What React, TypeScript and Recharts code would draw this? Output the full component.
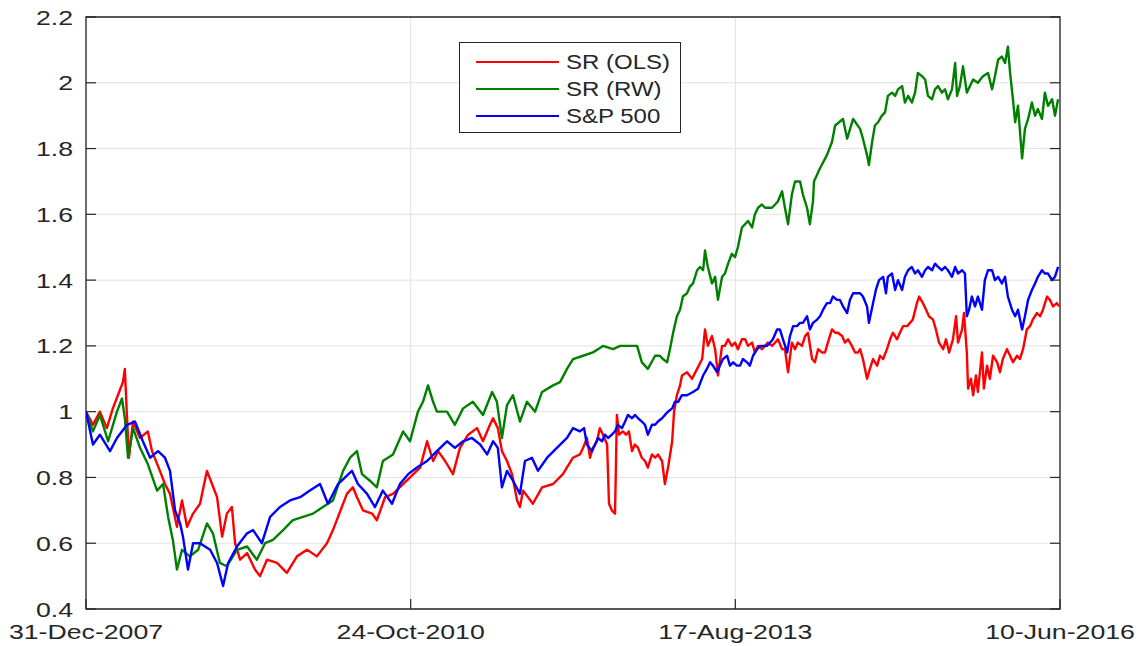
import {
  LineChart,
  Line,
  XAxis,
  YAxis,
  CartesianGrid,
  ReferenceArea,
  Legend,
} from "recharts";

// x values are days since 31-Dec-2007
const xTicks = [0, 1028, 2056, 3084];
const xTickLabels = ["31-Dec-2007", "24-Oct-2010", "17-Aug-2013", "10-Jun-2016"];
const yTicks = [0.4, 0.6, 0.8, 1, 1.2, 1.4, 1.6, 1.8, 2, 2.2];

const srOls: [number, number][] = [
  [0, 1.0], [22, 0.96], [44, 1.0], [66, 0.95], [85, 1.01], [101, 1.05], [117, 1.09], [123, 1.13],
  [130, 0.98], [136, 0.86], [149, 0.97], [171, 0.92], [196, 0.94], [209, 0.88], [234, 0.82], [250, 0.78],
  [266, 0.75], [288, 0.65], [304, 0.73], [320, 0.65], [339, 0.69], [361, 0.72], [383, 0.82], [399, 0.78],
  [415, 0.74], [431, 0.62], [446, 0.69], [462, 0.71], [472, 0.6], [488, 0.55], [510, 0.57], [535, 0.52],
  [551, 0.5], [573, 0.55], [605, 0.54], [636, 0.51], [668, 0.56], [700, 0.58], [731, 0.56], [763, 0.6],
  [782, 0.64], [798, 0.68], [826, 0.75], [845, 0.77], [858, 0.74], [877, 0.7], [906, 0.69], [921, 0.67],
  [947, 0.74], [972, 0.75], [1004, 0.78], [1026, 0.8], [1058, 0.83], [1080, 0.91], [1099, 0.85], [1115, 0.88],
  [1137, 0.85], [1162, 0.81], [1184, 0.89], [1210, 0.93], [1238, 0.95], [1257, 0.91], [1279, 0.96], [1289, 0.98],
  [1304, 0.95], [1317, 0.88], [1333, 0.85], [1349, 0.81], [1365, 0.73], [1374, 0.71], [1384, 0.76], [1415, 0.72],
  [1444, 0.77], [1479, 0.78], [1510, 0.81], [1542, 0.86],
  [1564, 0.87], [1574, 0.89], [1586, 0.92], [1596, 0.86], [1605, 0.89], [1618, 0.91], [1627, 0.95], [1637, 0.93],
  [1650, 0.9], [1656, 0.72], [1665, 0.7], [1675, 0.69], [1681, 0.99], [1688, 0.93], [1700, 0.94], [1710, 0.93],
  [1719, 0.94], [1729, 0.88], [1738, 0.9], [1748, 0.89], [1760, 0.86], [1770, 0.85], [1779, 0.83], [1792, 0.87],
  [1802, 0.86], [1811, 0.87], [1824, 0.85], [1833, 0.78], [1843, 0.83], [1856, 0.91], [1862, 1.0], [1871, 1.05],
  [1881, 1.08], [1887, 1.11], [1903, 1.12], [1919, 1.1], [1935, 1.13], [1951, 1.16], [1960, 1.25], [1969, 1.2],
  [1982, 1.23], [1992, 1.19], [2001, 1.11], [2014, 1.2], [2023, 1.2], [2033, 1.22], [2045, 1.2], [2055, 1.21],
  [2064, 1.19], [2077, 1.22], [2087, 1.22], [2096, 1.2], [2109, 1.21], [2118, 1.18], [2128, 1.2], [2140, 1.19],
  [2150, 1.2], [2159, 1.21], [2172, 1.2], [2182, 1.21], [2191, 1.22], [2204, 1.19], [2213, 1.19], [2223, 1.12],
  [2235, 1.21], [2245, 1.19], [2254, 1.21], [2267, 1.2], [2277, 1.23], [2286, 1.24], [2299, 1.16], [2308, 1.15],
  [2318, 1.19], [2330, 1.18], [2340, 1.18], [2349, 1.21], [2362, 1.25], [2372, 1.24], [2381, 1.24], [2394, 1.23],
  [2403, 1.21], [2413, 1.22], [2425, 1.2], [2435, 1.18], [2444, 1.18],
  [2451, 1.19], [2460, 1.16], [2473, 1.1], [2482, 1.13], [2492, 1.16], [2505, 1.14], [2514, 1.17], [2524, 1.16],
  [2536, 1.19], [2546, 1.22], [2555, 1.24], [2568, 1.22], [2577, 1.24], [2587, 1.26], [2600, 1.26], [2609, 1.27],
  [2618, 1.28], [2631, 1.33], [2638, 1.35], [2650, 1.33], [2660, 1.31], [2669, 1.29], [2682, 1.28], [2691, 1.25],
  [2701, 1.21], [2714, 1.19], [2723, 1.22], [2733, 1.18], [2745, 1.22], [2755, 1.29], [2761, 1.21], [2774, 1.25],
  [2780, 1.3], [2789, 1.18], [2793, 1.07], [2802, 1.1], [2809, 1.05], [2818, 1.11], [2824, 1.06], [2837, 1.18],
  [2843, 1.07], [2853, 1.14], [2862, 1.1], [2872, 1.17], [2885, 1.15], [2894, 1.12], [2903, 1.16], [2916, 1.19],
  [2926, 1.17], [2935, 1.15], [2948, 1.17], [2957, 1.16], [2967, 1.19], [2979, 1.25], [2989, 1.26], [2998, 1.28],
  [3011, 1.3], [3021, 1.29], [3030, 1.31], [3043, 1.35], [3052, 1.34], [3062, 1.32], [3074, 1.33], [3081, 1.32],
];

const srRw: [number, number][] = [
  [0, 1.0], [22, 0.94], [44, 0.99], [70, 0.91], [98, 1.0], [114, 1.04], [123, 0.98], [133, 0.86],
  [149, 0.95], [171, 0.89], [196, 0.84], [225, 0.76], [244, 0.78], [260, 0.68], [275, 0.61], [288, 0.52],
  [304, 0.58], [329, 0.56], [355, 0.58], [383, 0.66], [402, 0.63], [424, 0.54], [446, 0.53], [478, 0.58],
  [510, 0.59], [541, 0.55], [567, 0.6], [592, 0.61], [624, 0.64], [655, 0.67], [687, 0.68], [719, 0.69],
  [750, 0.71], [782, 0.73], [814, 0.82], [836, 0.86], [858, 0.88], [874, 0.81], [899, 0.79], [921, 0.77],
  [940, 0.85], [972, 0.87], [1004, 0.94], [1026, 0.91], [1051, 1.0], [1067, 1.03], [1083, 1.08], [1099, 1.03],
  [1111, 1.0], [1143, 1.0], [1168, 0.96], [1194, 1.01], [1225, 1.03], [1257, 0.99], [1286, 1.06], [1301, 1.03],
  [1317, 0.92], [1333, 1.02], [1352, 1.05], [1374, 0.97], [1396, 1.03], [1422, 1.0], [1444, 1.06], [1479, 1.08],
  [1501, 1.09], [1523, 1.13], [1542, 1.16], [1574, 1.17], [1605, 1.18], [1637, 1.2], [1669, 1.19], [1691, 1.2],
  [1722, 1.2], [1745, 1.2], [1760, 1.15], [1779, 1.13], [1802, 1.17],
  [1817, 1.17], [1827, 1.16], [1840, 1.15], [1849, 1.19], [1859, 1.24], [1871, 1.29], [1881, 1.31], [1890, 1.35],
  [1903, 1.36], [1912, 1.38], [1922, 1.39], [1935, 1.43], [1944, 1.44], [1954, 1.43], [1960, 1.49], [1969, 1.44],
  [1982, 1.39], [1992, 1.41], [2001, 1.34], [2014, 1.41], [2023, 1.42], [2033, 1.45], [2045, 1.48], [2055, 1.47],
  [2064, 1.5], [2077, 1.56], [2087, 1.57], [2096, 1.58], [2109, 1.56], [2118, 1.6], [2128, 1.62], [2140, 1.63],
  [2150, 1.62], [2159, 1.62], [2172, 1.62], [2182, 1.63], [2191, 1.64], [2204, 1.67], [2213, 1.62], [2223, 1.57],
  [2235, 1.66], [2245, 1.7], [2261, 1.7], [2270, 1.66], [2283, 1.62], [2292, 1.57], [2302, 1.64], [2305, 1.7],
  [2324, 1.74], [2346, 1.78], [2362, 1.82], [2372, 1.87], [2397, 1.89], [2410, 1.83], [2429, 1.89],
  [2451, 1.86], [2460, 1.83], [2473, 1.78], [2479, 1.75], [2489, 1.82], [2498, 1.87], [2508, 1.88], [2520, 1.9],
  [2530, 1.91], [2539, 1.96], [2552, 1.97], [2562, 1.96], [2571, 1.98], [2584, 1.99], [2593, 1.94], [2603, 1.96],
  [2615, 1.94], [2625, 1.97], [2634, 2.03], [2647, 2.02], [2657, 2.01], [2666, 1.96], [2679, 1.95], [2688, 1.98],
  [2698, 1.99], [2710, 1.97], [2720, 1.98], [2729, 1.95], [2742, 1.98], [2752, 2.06], [2758, 1.96], [2767, 1.99],
  [2777, 2.05], [2789, 1.97], [2799, 1.99], [2809, 2.01], [2824, 2.0], [2840, 2.02], [2856, 2.03], [2869, 1.98],
  [2878, 2.02], [2888, 2.07], [2900, 2.08], [2910, 2.06], [2919, 2.11], [2926, 2.03], [2935, 1.95], [2942, 1.88],
  [2951, 1.93], [2964, 1.77], [2973, 1.86], [2983, 1.89], [2995, 1.94], [3005, 1.9], [3014, 1.92], [3027, 1.89],
  [3036, 1.97], [3046, 1.93], [3059, 1.95], [3068, 1.9], [3078, 1.95],
];

const sp500: [number, number][] = [
  [0, 1.0], [22, 0.9], [44, 0.93], [76, 0.88], [98, 0.92], [130, 0.96], [155, 0.97], [180, 0.91],
  [203, 0.86], [228, 0.88], [250, 0.86], [266, 0.82], [282, 0.7], [298, 0.66], [307, 0.62], [323, 0.52],
  [339, 0.6], [361, 0.6], [393, 0.58], [415, 0.54], [434, 0.47], [450, 0.54], [478, 0.59], [510, 0.63],
  [529, 0.64], [557, 0.6], [583, 0.68], [614, 0.71], [646, 0.73], [678, 0.74], [709, 0.76], [741, 0.78],
  [766, 0.72], [798, 0.78], [842, 0.82], [861, 0.78], [890, 0.75], [915, 0.71], [940, 0.76], [969, 0.72],
  [994, 0.78], [1020, 0.81], [1048, 0.83], [1080, 0.85], [1111, 0.88], [1143, 0.91], [1168, 0.89], [1194, 0.91],
  [1222, 0.92], [1248, 0.9], [1270, 0.87], [1289, 0.91], [1304, 0.89], [1317, 0.77], [1333, 0.82], [1352, 0.79],
  [1374, 0.75], [1390, 0.85], [1412, 0.86], [1431, 0.82], [1460, 0.86], [1491, 0.89], [1523, 0.92], [1542, 0.95],
  [1564, 0.94], [1577, 0.95], [1586, 0.9], [1602, 0.88], [1612, 0.9], [1621, 0.92], [1634, 0.91], [1643, 0.93],
  [1653, 0.92], [1665, 0.93], [1675, 0.94], [1684, 0.96], [1697, 0.95], [1707, 0.97], [1716, 0.99], [1729, 0.98],
  [1738, 0.99], [1748, 0.98], [1760, 0.97], [1770, 0.96], [1779, 0.93], [1792, 0.96], [1802, 0.96], [1811, 0.97],
  [1824, 0.98], [1833, 0.99], [1843, 1.0], [1856, 1.01], [1865, 1.03], [1875, 1.03], [1887, 1.05], [1903, 1.05],
  [1922, 1.06], [1938, 1.07], [1954, 1.11], [1966, 1.13], [1976, 1.15], [1985, 1.14], [1998, 1.12], [2007, 1.14],
  [2017, 1.16], [2030, 1.17], [2039, 1.14], [2049, 1.15], [2061, 1.14], [2071, 1.14], [2080, 1.16], [2093, 1.15],
  [2102, 1.14], [2112, 1.17], [2125, 1.19], [2134, 1.2], [2144, 1.2], [2156, 1.2], [2166, 1.21], [2175, 1.22],
  [2188, 1.25], [2197, 1.25], [2207, 1.22], [2220, 1.18], [2229, 1.23], [2239, 1.26], [2251, 1.26], [2261, 1.27],
  [2270, 1.27], [2283, 1.29], [2292, 1.25], [2302, 1.27], [2315, 1.28], [2324, 1.29], [2334, 1.31], [2346, 1.33],
  [2356, 1.33], [2365, 1.35], [2378, 1.34], [2387, 1.34], [2397, 1.32], [2410, 1.3], [2419, 1.34], [2429, 1.36],
  [2441, 1.36], [2451, 1.36], [2460, 1.35], [2473, 1.32], [2479, 1.27], [2492, 1.33], [2501, 1.37], [2511, 1.4],
  [2524, 1.41], [2533, 1.36], [2539, 1.41], [2552, 1.42], [2562, 1.37], [2571, 1.4], [2584, 1.37], [2593, 1.41],
  [2603, 1.43], [2615, 1.44], [2625, 1.42], [2634, 1.43], [2647, 1.41], [2657, 1.43], [2666, 1.44], [2679, 1.43],
  [2688, 1.45], [2698, 1.44], [2710, 1.43], [2720, 1.44], [2729, 1.43], [2742, 1.41], [2752, 1.44], [2761, 1.42],
  [2774, 1.43], [2783, 1.42], [2789, 1.29], [2796, 1.31], [2805, 1.35], [2815, 1.32], [2824, 1.35], [2837, 1.31],
  [2846, 1.4], [2856, 1.43], [2869, 1.43], [2878, 1.4], [2888, 1.41], [2900, 1.39], [2910, 1.41], [2919, 1.35],
  [2932, 1.31], [2942, 1.29], [2951, 1.31], [2964, 1.25], [2973, 1.29], [2983, 1.34], [2995, 1.37], [3005, 1.39],
  [3014, 1.41], [3027, 1.43], [3036, 1.42], [3046, 1.42], [3059, 1.4], [3068, 1.41], [3078, 1.44],
];

const series = [
  { name: "SR (OLS)", color: "#ff0000", points: srOls },
  { name: "SR (RW)", color: "#008000", points: srRw },
  { name: "S&P 500", color: "#0000ff", points: sp500 },
];

const toRows = (pts: [number, number][]) => pts.map(([day, v]) => ({ day, v }));

const AXIS = "#262626";
const FONT = "'Liberation Sans', Arial, sans-serif";
const TICK_LEN = 10;

const LeftTick = ({ x, y, payload }: any) => (
  <g>
    <line x1={x} x2={x + TICK_LEN} y1={y} y2={y} stroke={AXIS} strokeWidth={1.2} />
    <text
      transform={`translate(${x - 13},${y + 7.5}) scale(1.27,1)`}
      textAnchor="end"
      fontSize={21}
      fontFamily={FONT}
      fill={AXIS}
    >
      {String(payload.value)}
    </text>
  </g>
);

const RightTick = ({ x, y }: any) => (
  <line x1={x} x2={x - TICK_LEN} y1={y} y2={y} stroke={AXIS} strokeWidth={1.2} />
);

const BottomTick = ({ x, y, index }: any) => (
  <g>
    <line x1={x} x2={x} y1={y} y2={y - TICK_LEN} stroke={AXIS} strokeWidth={1.2} />
    <text
      transform={`translate(${x},${y + 30}) scale(1.27,1)`}
      textAnchor="middle"
      fontSize={21}
      fontFamily={FONT}
      fill={AXIS}
    >
      {xTickLabels[index]}
    </text>
  </g>
);

const LegendBox = () => (
  <div
    style={{
      width: 222,
      height: 91,
      boxSizing: "border-box",
      border: `1.3px solid ${AXIS}`,
      background: "#fff",
      position: "relative",
      fontFamily: FONT,
    }}
  >
    {series.map((s, i) => (
      <div key={s.name}>
        <div
          style={{
            position: "absolute",
            left: 16,
            top: 18 + i * 27,
            width: 83,
            height: 2,
            background: s.color,
          }}
        />
        <span
          style={{
            position: "absolute",
            left: 106,
            top: 7 + i * 27,
            fontSize: 20,
            lineHeight: "24px",
            color: AXIS,
            whiteSpace: "nowrap",
            transform: "scaleX(1.2)",
            transformOrigin: "left center",
          }}
        >
          {s.name}
        </span>
      </div>
    ))}
  </div>
);

export default function App() {
  return (
    <div style={{ position: "absolute", left: 0, top: 0, background: "#fff" }}>
      <LineChart width={1142} height={646} margin={{ top: 17, right: 0, bottom: 0, left: 0 }}>
        <CartesianGrid stroke="#e2e2e2" strokeWidth={1} />
        <XAxis
          dataKey="day"
          type="number"
          domain={[0, 3084]}
          ticks={xTicks}
          interval={0}
          height={37}
          axisLine={false}
          tickLine={false}
          tickSize={0}
          tickMargin={0}
          tick={<BottomTick />}
          allowDataOverflow
        />
        <YAxis
          yAxisId={0}
          type="number"
          domain={[0.4, 2.2]}
          ticks={yTicks}
          interval={0}
          width={86}
          axisLine={false}
          tickLine={false}
          tickSize={0}
          tickMargin={0}
          tick={<LeftTick />}
          allowDataOverflow
        />
        <YAxis
          yAxisId="r"
          orientation="right"
          type="number"
          domain={[0.4, 2.2]}
          ticks={yTicks}
          interval={0}
          width={82}
          axisLine={false}
          tickLine={false}
          tickSize={0}
          tickMargin={0}
          tick={<RightTick />}
          allowDataOverflow
        />
        {series.map((s) => (
          <Line
            key={s.name}
            data={toRows(s.points)}
            dataKey="v"
            name={s.name}
            type="linear"
            stroke={s.color}
            strokeWidth={2.4}
            strokeLinejoin="round"
            dot={false}
            activeDot={false}
            isAnimationActive={false}
          />
        ))}
        <ReferenceArea
          x1={0}
          x2={3084}
          y1={0.4}
          y2={2.2}
          fill="none"
          fillOpacity={0}
          stroke={AXIS}
          strokeWidth={1.3}
        />
        <Legend
          layout="vertical"
          align="center"
          verticalAlign="middle"
          content={<LegendBox />}
          wrapperStyle={{ position: "absolute", left: 459, top: 42, width: 222, height: 91 }}
        />
      </LineChart>
    </div>
  );
}
